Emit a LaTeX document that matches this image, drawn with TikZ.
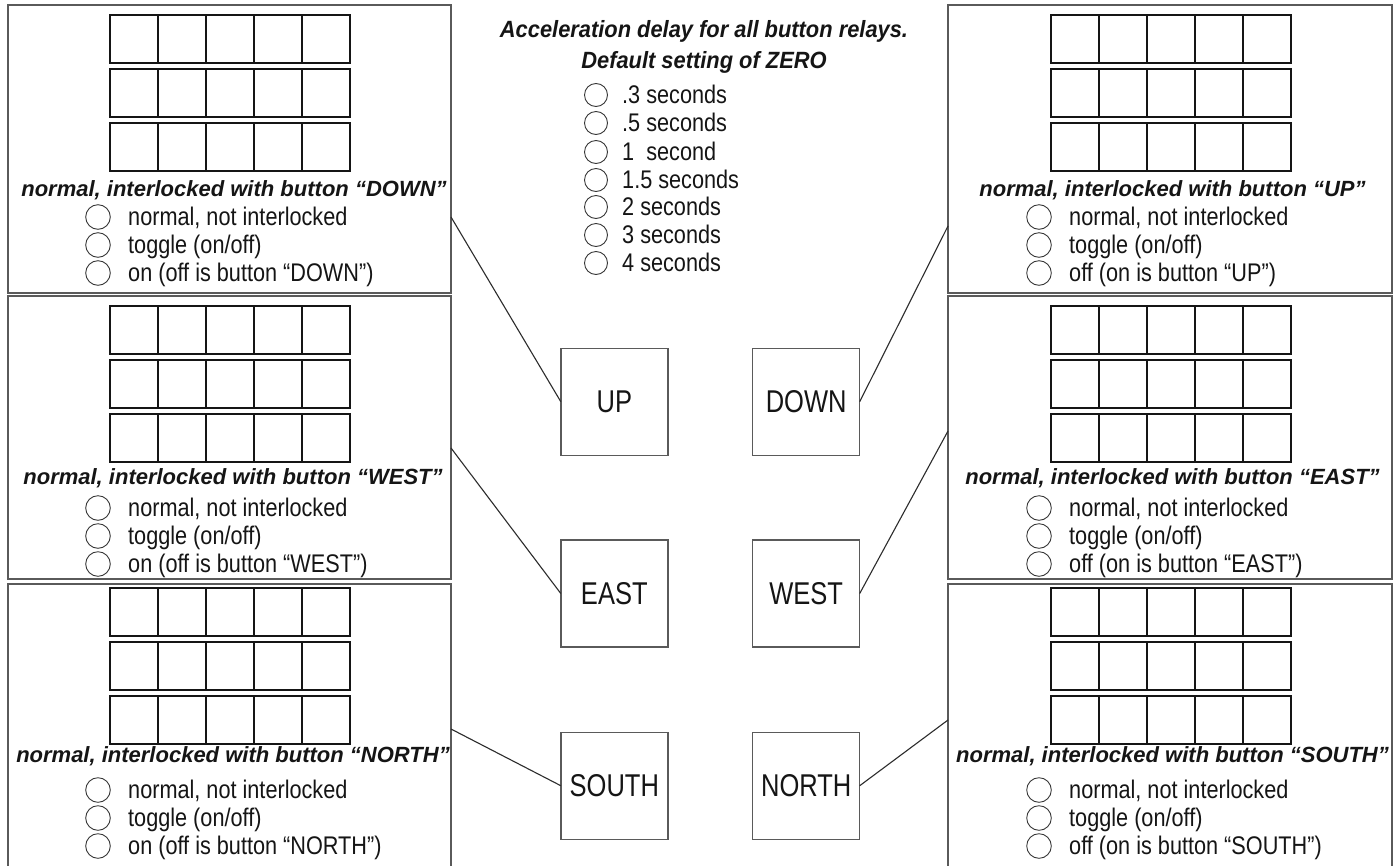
\documentclass[tikz,border=0pt]{standalone}
\usepackage{fontspec}
\setmainfont{Liberation Sans}
\newfontfamily\optfont{Liberation Sans}[FakeStretch=0.85]
\newfontfamily\headfont{Liberation Sans}[FakeStretch=0.93]
\newfontfamily\btnfont{Liberation Sans}[FakeStretch=0.81]
\definecolor{framegray}{HTML}{5A5A5A}
\definecolor{ink}{HTML}{151515}
\tikzset{
 panelframe/.style={draw=framegray, line width=1.4pt},
 cell/.style={draw=ink, line width=1.6pt},
 radio/.style={draw=ink!85, line width=0.9pt},
 opttext/.style={anchor=base west, inner sep=0pt, text=ink, font=\optfont\fontsize{25.5}{30}\selectfont},
 ptitle/.style={anchor=base, inner sep=0pt, text=ink, font=\bfseries\itshape\fontsize{22}{26}\selectfont},
 headtext/.style={anchor=base, inner sep=0pt, text=ink, font=\headfont\bfseries\itshape\fontsize{23.5}{28}\selectfont},
 btnbox/.style={draw=framegray, line width=1.4pt, minimum width=107pt, minimum height=107pt, inner sep=0pt, outer sep=0pt, text=ink, font=\btnfont\fontsize{31.5}{36}\selectfont},
 link/.style={draw=ink!90, line width=1.1pt},
}
% #1 prefix, #2 grid left x, #3 circle x, #4 title centre x, #5 grid top, #6 title baseline, #7 button, #8 third option
\newcommand\relaypanel[8]{%
  \foreach \r in {0,54,108}{\foreach \c in {0,...,4}{\draw[cell] ({#2+48*\c},{#5+\r}) rectangle ++(48,48);}}
  \node[ptitle] (#1-title) at ({#4},{#6}) {normal, interlocked with button “#7”};
  \draw[radio] ({#3},{#5+202}) circle[radius=12.3pt];
  \draw[radio] ({#3},{#5+230}) circle[radius=12.3pt];
  \draw[radio] ({#3},{#5+258}) circle[radius=12.3pt];
  \node[opttext] (#1-o1) at ({#3+30},{#5+210}) {normal, not interlocked};
  \node[opttext] (#1-o2) at ({#3+30},{#5+238}) {toggle (on/off)};
  \node[opttext] (#1-o3) at ({#3+30},{#5+266}) {#8};
}
\begin{document}
\begin{tikzpicture}[x=1pt,y=-1pt]
\useasboundingbox (0,0) rectangle (1397,865);
\clip (0,0) rectangle (1397,865);
\fill[white] (0,0) rectangle (1397,865);
% panel frames
\draw[panelframe] (8,5) rectangle (451,293);
\draw[panelframe] (8,296) rectangle (451,579);
\draw[panelframe] (8,870) -- (8,584) -- (451,584) -- (451,870);
\draw[panelframe] (948,5) rectangle (1392,293);
\draw[panelframe] (948,296) rectangle (1392,579);
\draw[panelframe] (948,870) -- (948,584) -- (1392,584) -- (1392,870);
% panels
\relaypanel{pl1}{110}{98}{234}{15}{196}{DOWN}{on (off is button “DOWN”)}
\relaypanel{pl2}{110}{98}{233}{306}{484}{WEST}{on (off is button “WEST”)}
\relaypanel{pl3}{110}{98}{233}{588}{762}{NORTH}{on (off is button “NORTH”)}
\relaypanel{pr1}{1051}{1039}{1172.5}{15}{196}{UP}{off (on is button “UP”)}
\relaypanel{pr2}{1051}{1039}{1172.5}{306}{484}{EAST}{off (on is button “EAST”)}
\relaypanel{pr3}{1051}{1039}{1172.5}{588}{762}{SOUTH}{off (on is button “SOUTH”)}
% heading
\node[headtext] (h1) at (704,37) {Acceleration delay for all button relays.};
\node[headtext] (h2) at (704,68) {Default setting of ZERO};
% delay options
\foreach \yy/\tt [count=\i] in {95/{.3 seconds},123/{.5 seconds},152/{1\ \ second},180/{1.5 seconds},207/{2 seconds},235/{3 seconds},263/{4 seconds}}{
  \draw[radio] (596,\yy) circle[radius=11.5pt];
  \node[opttext] (d\i) at (622,\yy+8) {\tt};
}
% buttons
\node[btnbox] (up) at (614.3,401.7) {UP};
\node[btnbox] (down) at (806.2,401.7) {DOWN};
\node[btnbox] (east) at (614.3,593.5) {EAST};
\node[btnbox] (west) at (806.2,593.5) {WEST};
\node[btnbox] (south) at (614.3,785.7) {SOUTH};
\node[btnbox] (north) at (806.2,785.7) {NORTH};
% connectors
\coordinate (l1) at (451,217);
\coordinate (l2) at (451,448);
\coordinate (l3) at (451,729);
\coordinate (r1) at (948,226);
\coordinate (r2) at (948,431);
\coordinate (r3) at (948,720);
\draw[link] (l1) -- (up.west);
\draw[link] (l2) -- (east.west);
\draw[link] (l3) -- (south.west);
\draw[link] (down.east) -- (r1);
\draw[link] (west.east) -- (r2);
\draw[link] (north.east) -- (r3);
\end{tikzpicture}
\end{document}
